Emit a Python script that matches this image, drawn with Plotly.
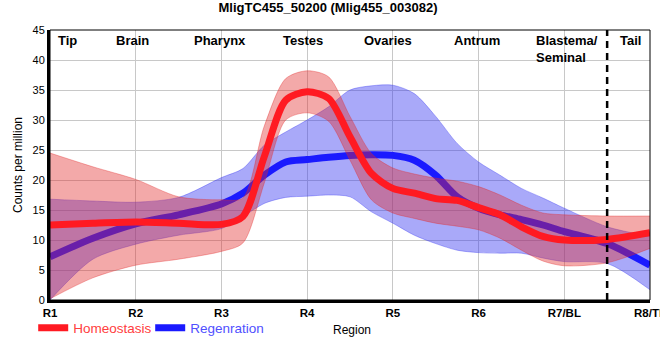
import plotly.graph_objects as go

# ---- data ----
region_ticks = ["R1", "R2", "R3", "R4", "R5", "R6", "R7/BL", "R8/TL"]
positions = [0, 0.5, 1, 1.5, 2, 2.25, 2.5, 2.75, 3, 3.25, 3.5, 3.75, 4,
             4.25, 4.5, 4.75, 5, 5.25, 5.5, 5.75, 6, 6.5, 7]

homeo_mean = [12.5, 12.8, 13.0, 12.8, 12.6, 13.9, 23.9, 33.3, 34.7, 33.6, 27.2, 21.1, 18.6,
              17.8, 16.9, 16.6, 15.4, 14.2, 12.2, 10.6, 10.0, 10.1, 11.2]
homeo_upper = [24.5, 22.2, 20.1, 17.2, 16.7, 17.0, 29.0, 36.9, 38.2, 37.2, 30.6, 24.4, 22.0,
               21.0, 20.3, 19.8, 18.9, 17.5, 15.8, 14.5, 14.2, 14.0, 14.0]
homeo_lower = [0.2, 3.7, 5.8, 6.8, 8.1, 9.5, 19.5, 30.0, 31.2, 29.8, 23.3, 16.7, 14.5,
               13.6, 12.8, 12.3, 11.7, 10.3, 8.3, 6.5, 5.7, 6.2, 8.6]

regen_mean = [7.2, 10.3, 12.7, 14.2, 16.0, 17.8, 20.8, 23.0, 23.4, 23.8, 24.1, 24.2, 24.1,
              23.3, 20.8, 17.2, 15.3, 14.2, 13.4, 12.5, 11.4, 9.4, 5.8]
regen_upper = [16.8, 16.5, 16.3, 17.1, 20.4, 21.9, 25.8, 28.0, 30.0, 32.2, 35.0, 35.7, 35.8,
               34.4, 30.6, 26.1, 23.0, 20.8, 18.6, 17.0, 15.3, 12.2, 10.6]
regen_lower = [0.0, 6.8, 9.3, 10.8, 11.9, 13.9, 16.1, 17.1, 17.3, 17.5, 17.2, 14.7, 12.8,
               10.8, 9.4, 8.3, 7.9, 7.8, 7.8, 7.0, 6.4, 6.1, 1.7]

region_names = ["Tip", "Brain", "Pharynx", "Testes", "Ovaries", "Antrum", "Blastema/<br>Seminal", "Tail"]
region_label_x = [0.2, 0.96, 1.98, 2.95, 3.94, 4.98, 5.65, 6.77]
tail_boundary = 6.5

# ---- figure ----
fig = go.Figure()
sm = 0.8

def band(upper, lower, fill, edge):
    fig.add_trace(go.Scatter(x=positions, y=upper, mode="lines",
                             line=dict(shape="spline", smoothing=sm, width=1, color=edge),
                             showlegend=False, hoverinfo="skip"))
    fig.add_trace(go.Scatter(x=positions, y=lower, mode="lines", fill="tonexty",
                             fillcolor=fill,
                             line=dict(shape="spline", smoothing=sm, width=1, color=edge),
                             showlegend=False, hoverinfo="skip"))

band(regen_upper, regen_lower, "rgba(50,50,240,0.42)", "rgba(50,50,240,0.35)")
fig.add_trace(go.Scatter(x=positions, y=regen_mean, mode="lines",
                         name='<span style="color:#5050ff">Regenration</span>',
                         line=dict(shape="spline", smoothing=sm, width=7, color="#1a1aff"),
                         legendrank=2))
band(homeo_upper, homeo_lower, "rgba(225,40,40,0.4)", "rgba(225,40,40,0.35)")
fig.add_trace(go.Scatter(x=positions, y=homeo_mean, mode="lines",
                         name='<span style="color:#ff4040">Homeostasis</span>',
                         line=dict(shape="spline", smoothing=sm, width=7, color="#ff1a22"),
                         legendrank=1))

annotations = []
for name, xv in zip(region_names, region_label_x):
    left = "<br>" in name
    annotations.append(dict(text="<b>" + name + "</b>", x=xv, xref="x", y=1, yref="paper",
                            yanchor="top", xanchor="left" if left else "center", align="left",
                            yshift=-1, showarrow=False, font=dict(size=13, color="black")))
annotations.append(dict(text="Region", x=0.503, xref="paper", y=-0.111, yref="paper",
                        yanchor="middle", xanchor="center", showarrow=False,
                        font=dict(size=12, color="black")))

fig.update_layout(
    width=660, height=360, template="none",
    margin=dict(l=50, r=10, t=30, b=60, autoexpand=False),
    paper_bgcolor="white", plot_bgcolor="white",
    font=dict(family="Liberation Sans, Arial, sans-serif", color="black"),
    title=dict(text="<b>MligTC455_50200 (Mlig455_003082)</b>", x=0.497, xref="container",
               y=0.978, yref="container", xanchor="center", yanchor="middle",
               font=dict(size=13, color="black")),
    xaxis=dict(range=[0, 7], tickvals=list(range(len(region_ticks))),
               ticktext=["<b>" + t + "</b>" for t in region_ticks],
               tickfont=dict(size=11.5, color="black"), showgrid=True, gridcolor="#c8c8c8",
               gridwidth=1, showline=True, linecolor="black", linewidth=3, ticks="",
               zeroline=False, automargin=False, ticklabeloverflow="allow"),
    yaxis=dict(range=[0, 45], dtick=5, tickfont=dict(size=11, color="black"), showgrid=True,
               gridcolor="#c8c8c8", gridwidth=1, showline=True, linecolor="black",
               linewidth=3, ticks="", zeroline=False, automargin=False,
               title=dict(text="Counts per million", font=dict(size=12, color="black"),
                          standoff=8)),
    legend=dict(orientation="h", x=-0.028, xanchor="left", y=-0.104, yanchor="middle",
                font=dict(size=13.5), bgcolor="rgba(0,0,0,0)", traceorder="normal",
                entrywidth=72, entrywidthmode="pixels"),
    annotations=annotations,
    shapes=[
        dict(type="rect", xref="paper", yref="paper", x0=0, x1=1, y0=0, y1=1,
             line=dict(color="black", width=1), layer="above"),
        dict(type="line", xref="x", yref="paper", x0=tail_boundary, x1=tail_boundary,
             y0=0, y1=1, line=dict(color="black", width=2.5, dash="7px,5px"), layer="above"),
    ],
)

fig.write_html("out.html", config={"displayModeBar": False},
               post_script="document.body.style.margin='0px';document.body.style.overflow='hidden';")
